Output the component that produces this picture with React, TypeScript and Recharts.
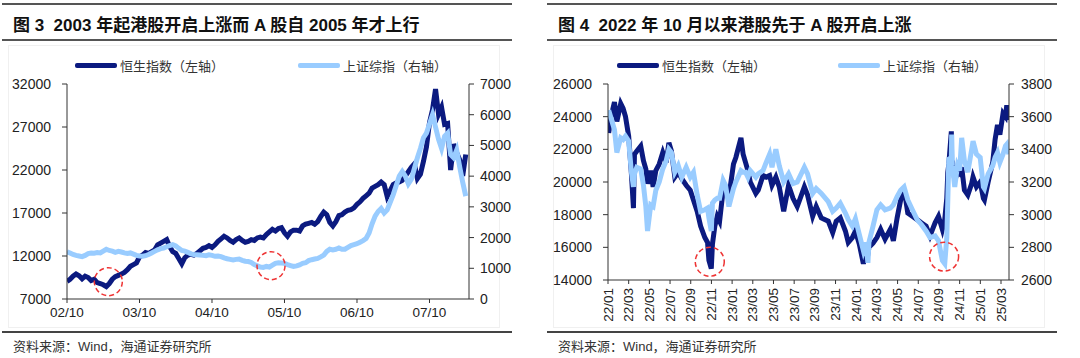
import { LineChart, Line, XAxis, YAxis, ReferenceDot } from "recharts";

const DARK = "#0b1a80";
const LIGHT = "#99ccff";
const RED = "#ee3333";

// ---- 图3：2002/10 - 2008/04，每半月一个点 ----
const leftStart = 2002.75;
const leftHsi = [
  9050, 9300, 9650, 9900, 9700, 9350,
  9650, 9500, 9150, 9300, 8900, 8800, 8650, 8450, 8800, 9300, 9600, 9750,
  9900, 10100, 10400, 10800, 11000, 11200, 11900, 12100, 12400, 12300, 12500, 12700,
  13300, 13500, 13700, 13900, 13100, 12500, 12300, 11700, 11100, 11800, 12100, 12200,
  12100, 12300, 12600, 12900, 13000, 13200, 13000, 13300, 13700, 14000, 14300, 14100,
  13800, 13600, 13900, 14100, 13800, 13600, 13700, 13900, 13800, 14100, 14200, 14100,
  14500, 14800, 15100, 14900, 15200, 15300, 14700, 14300, 14800, 15000, 15000, 14900,
  15500, 15700, 15800, 15900, 15700, 16000, 16600, 17100, 16800, 15900, 15500, 16000,
  16700, 16800, 17100, 17300, 17400, 17600, 18000, 18300, 18700, 19000, 19300, 19900,
  20100, 20300, 20600, 20300, 18900, 19600, 20300, 20500, 20600, 20800, 21300, 21800,
  22300, 22700, 21000, 21500, 23000, 24700, 27500, 29000, 31400, 28500, 29300, 27300,
  27400, 22000, 25000, 24000, 23200, 21300, 23800,
];
const leftSse = [
  1540, 1500, 1450, 1420, 1400, 1380,
  1420, 1480, 1500, 1490, 1510, 1500, 1560, 1620, 1580, 1560, 1520, 1550,
  1530, 1500, 1480, 1500, 1460, 1420, 1400, 1390, 1410, 1450, 1500, 1550,
  1600, 1640, 1660, 1700, 1740, 1770, 1730, 1650, 1580, 1560, 1520, 1470,
  1450, 1440, 1430, 1420, 1410, 1440, 1420, 1390, 1400, 1380, 1340, 1310,
  1290, 1270, 1290, 1300, 1260, 1230, 1220, 1190, 1120, 1080, 1040, 1030,
  1060, 1040, 1100, 1160, 1180, 1170, 1160, 1120, 1090, 1060, 1080, 1110,
  1160, 1180, 1250, 1280, 1300, 1320, 1370, 1430, 1550, 1620, 1600, 1620,
  1660, 1620, 1620, 1680, 1740, 1770, 1800, 1850, 1900, 1970, 2150, 2450,
  2700, 2850, 2950, 2800, 2900, 3150, 3400, 3700, 4000, 4150, 4000, 3750,
  3900, 4250, 4600, 4900, 5250, 5400, 5700, 6000, 5600, 5200, 4900, 5300,
  5400, 4700, 4600, 4850, 4300, 3800, 3350,
];
const leftXTicks = [2002.75, 2003.75, 2004.75, 2005.75, 2006.75, 2007.75];
const leftHsiTicks = [7000, 12000, 17000, 22000, 27000, 32000];
const leftSseTicks = [0, 1000, 2000, 3000, 4000, 5000, 6000, 7000];

// ---- 图4：2022/01 - 2025/03 ----
const rightDates = [
  "2022-01-03", "2022-01-10", "2022-01-20", "2022-01-27", "2022-02-08", "2022-02-15", "2022-02-22",
  "2022-03-01", "2022-03-09", "2022-03-15", "2022-03-18", "2022-03-25", "2022-04-06", "2022-04-14",
  "2022-04-21", "2022-04-26", "2022-05-05", "2022-05-12", "2022-05-20", "2022-05-30", "2022-06-10",
  "2022-06-20", "2022-06-28", "2022-07-05", "2022-07-15", "2022-07-25", "2022-08-05", "2022-08-18",
  "2022-08-30", "2022-09-09", "2022-09-20", "2022-09-30", "2022-10-12", "2022-10-20", "2022-10-24",
  "2022-10-31", "2022-11-04", "2022-11-11", "2022-11-18", "2022-11-25", "2022-12-05", "2022-12-12",
  "2022-12-22", "2023-01-05", "2023-01-12", "2023-01-27", "2023-02-03", "2023-02-10", "2023-02-17",
  "2023-02-24", "2023-03-10", "2023-03-17", "2023-03-31", "2023-04-10", "2023-04-20", "2023-04-27",
  "2023-05-08", "2023-05-18", "2023-05-31", "2023-06-15", "2023-06-28", "2023-07-10", "2023-07-31",
  "2023-08-10", "2023-08-25", "2023-09-05", "2023-09-20", "2023-10-10", "2023-10-23", "2023-11-03",
  "2023-11-15", "2023-11-30", "2023-12-08", "2023-12-20", "2023-12-29", "2024-01-10", "2024-01-22",
  "2024-01-29", "2024-02-05", "2024-02-08", "2024-02-20", "2024-03-01", "2024-03-12", "2024-03-25",
  "2024-04-10", "2024-04-19", "2024-04-30", "2024-05-10", "2024-05-20", "2024-05-31", "2024-06-14",
  "2024-06-28", "2024-07-10", "2024-07-24", "2024-08-05", "2024-08-20", "2024-08-30", "2024-09-11",
  "2024-09-18", "2024-09-24", "2024-09-27", "2024-09-30", "2024-10-07", "2024-10-08", "2024-10-10",
  "2024-10-17", "2024-10-25", "2024-11-01", "2024-11-07", "2024-11-15", "2024-11-25", "2024-12-06",
  "2024-12-10", "2024-12-20", "2024-12-31", "2025-01-10", "2025-01-13", "2025-01-24", "2025-02-07",
  "2025-02-14", "2025-02-21", "2025-02-28", "2025-03-07", "2025-03-14", "2025-03-18", "2025-03-24",
];
const rightHsi = [
  23000, 24000, 24900, 23700, 24800, 24500, 24000,
  22800, 20500, 18400, 21700, 21900, 22200, 21300,
  20800, 19900, 20700, 19700, 20700, 21100, 21800,
  21200, 22400, 21900, 20300, 20600, 20200, 19800,
  19500, 18900, 18200, 17300, 16600, 16300, 15200,
  14700, 16200, 17300, 17900, 17600, 19500, 19400,
  19100, 21100, 21500, 22700, 21700, 21200, 20700,
  20000, 19300, 19500, 20400, 20300, 20400, 19800,
  20300, 19700, 18200, 19800, 19000, 18500, 19700,
  19200, 17900, 18500, 17800, 17600, 16900, 17600,
  17800, 17000, 16300, 16600, 17000, 16200, 15000,
  15700, 15600, 16000, 16250, 16600, 17100, 16500,
  17100, 16400, 17800, 18900, 19600, 18100, 17900,
  17700, 17500, 17300, 16700, 17500, 17900, 17100,
  17700, 19000, 20600, 21100, 23100, 20900, 21300,
  20100, 20600, 20500, 20900, 19500, 19200, 19900,
  20300, 19700, 20000, 19000, 18900, 20000, 21200,
  22600, 23500, 22900, 24200, 24000, 24700, 23800,
];
const rightSse = [
  3640, 3590, 3520, 3380, 3470, 3460, 3480,
  3450, 3260, 3170, 3250, 3290, 3280, 3180,
  3050, 2900, 3060, 3050, 3150, 3200, 3280,
  3330, 3400, 3380, 3260, 3300, 3230, 3290,
  3230, 3260, 3120, 3020, 3030, 3040, 2980,
  2900, 3070, 3090, 3100, 3100, 3210, 3180,
  3050, 3160, 3200, 3270, 3260, 3260, 3230,
  3270, 3230, 3250, 3270, 3320, 3370, 3290,
  3400, 3300, 3200, 3250, 3190, 3200, 3290,
  3250, 3130, 3160, 3130, 3080, 3020, 3040,
  3070, 3010, 2970, 2930, 2975, 2880, 2780,
  2830, 2705, 2830, 2930, 3030, 3060, 3030,
  3040, 3060, 3110, 3150, 3170, 3090, 3030,
  2970, 2940, 2900, 2860, 2870, 2840, 2720,
  2700, 2860, 3090, 3340, 3350, 3490, 3300,
  3170, 3300, 3270, 3470, 3330, 3260, 3400,
  3450, 3370, 3350, 3170, 3160, 3250, 3300,
  3350, 3380, 3320, 3370, 3420, 3430, 3370,
];
const rightXTicks = [
  2022, 2022 + 2 / 12, 2022 + 4 / 12, 2022 + 6 / 12, 2022 + 8 / 12, 2022 + 10 / 12,
  2023, 2023 + 2 / 12, 2023 + 4 / 12, 2023 + 6 / 12, 2023 + 8 / 12, 2023 + 10 / 12,
  2024, 2024 + 2 / 12, 2024 + 4 / 12, 2024 + 6 / 12, 2024 + 8 / 12, 2024 + 10 / 12,
  2025, 2025 + 2 / 12,
];
const rightHsiTicks = [14000, 16000, 18000, 20000, 22000, 24000, 26000];
const rightSseTicks = [2600, 2800, 3000, 3200, 3400, 3600, 3800];

const toYear = (s: string) => {
  const [y, m, d] = s.split("-").map(Number);
  return y + (m - 1) / 12 + (d - 1) / 30.4 / 12;
};

const leftData = leftHsi.map((v, i) => ({ t: leftStart + i / 24, hsi: v, sse: leftSse[i] }));
const rightData = rightDates.map((d, i) => ({ t: toYear(d), hsi: rightHsi[i], sse: rightSse[i] }));

const fmtYm = (t: number) => {
  const y = Math.floor(t + 1e-6);
  const m = Math.round((t - y) * 12) + 1;
  return `${String(y % 100).padStart(2, "0")}/${String(m).padStart(2, "0")}`;
};

const tickFont = { fontSize: 14, fill: "#222", fontFamily: '"Liberation Sans", Arial, sans-serif' };
const axisLine = { stroke: "#333" };

const RotTick = (props: any) => {
  const { x, y, payload } = props;
  return (
    <text
      x={x}
      y={y}
      transform={`rotate(-90, ${x}, ${y})`}
      textAnchor="end"
      dominantBaseline="central"
      fontSize={13.5}
      fill="#222"
      fontFamily='"Liberation Sans", Arial, sans-serif'
    >
      {fmtYm(payload.value)}
    </text>
  );
};

const cjk = '"Liberation Sans", "Noto Sans CJK SC", sans-serif';

const LegendItem = ({ x, color, label }: { x: number; color: string; label: string }) => (
  <div style={{ position: "absolute", left: x, top: 56, height: 18, display: "flex", alignItems: "center" }}>
    <div style={{ width: 42, height: 5, background: color, borderRadius: 2 }} />
    <span style={{ marginLeft: 3, fontSize: 13, color: "#333", fontFamily: cjk }}>{label}</span>
  </div>
);

const Panel = ({ left, title }: { left: number; title: string }) => (
  <>
    <div style={{ position: "absolute", left, top: 3, width: 510, borderTop: "2px solid #555" }} />
    <div
      style={{
        position: "absolute",
        left: left + 11,
        top: 11,
        fontSize: 17,
        fontWeight: "bold",
        color: "#111",
        fontFamily: cjk,
        whiteSpace: "pre",
      }}
    >
      {title}
    </div>
    <div style={{ position: "absolute", left, top: 39, width: 510, borderTop: "2px solid #555" }} />
    <div
      style={{ position: "absolute", left: left + 6, top: 45, width: 490, height: 281, border: "1px solid #f0f0f0" }}
    />
    <div style={{ position: "absolute", left, top: 331, width: 510, borderTop: "2px solid #444" }} />
    <div style={{ position: "absolute", left: left + 11, top: 336, fontSize: 13, color: "#333", fontFamily: cjk }}>
      资料来源：Wind，海通证券研究所
    </div>
  </>
);

export default function App() {
  return (
    <div style={{ position: "absolute", left: 0, top: 0, width: 1080, height: 358, background: "#fff", overflow: "hidden" }}>
      <Panel left={2} title={"图 3  2003 年起港股开启上涨而 A 股自 2005 年才上行"} />
      <Panel left={547} title={"图 4  2022 年 10 月以来港股先于 A 股开启上涨"} />

      <div style={{ position: "absolute", left: 0, top: 0 }}>
        <LineChart width={540} height={330} data={leftData} margin={{ top: 84, right: 11, bottom: 5, left: 7 }}>
          <XAxis
            type="number"
            dataKey="t"
            domain={[2002.75, 2008.295]}
            ticks={leftXTicks}
            tickFormatter={fmtYm}
            interval={0}
            allowDataOverflow
            height={26}
            tickSize={4}
            tickMargin={4}
            axisLine={axisLine}
            tickLine={axisLine}
            tick={{ ...tickFont, fontSize: 13.5 }}
          />
          <YAxis
            yAxisId="left"
            domain={[7000, 32000]}
            ticks={leftHsiTicks}
            interval={0}
            width={60}
            tickSize={5}
            tickMargin={11}
            axisLine={axisLine}
            tickLine={axisLine}
            tick={tickFont}
          />
          <YAxis
            yAxisId="right"
            orientation="right"
            domain={[0, 7000]}
            ticks={leftSseTicks}
            interval={0}
            width={60}
            tickSize={5}
            tickMargin={6}
            axisLine={axisLine}
            tickLine={axisLine}
            tick={tickFont}
          />
          <Line yAxisId="left" dataKey="hsi" stroke={DARK} strokeWidth={5} dot={false} isAnimationActive={false} />
          <Line yAxisId="right" dataKey="sse" stroke={LIGHT} strokeWidth={5} dot={false} isAnimationActive={false} />
          <ReferenceDot yAxisId="left" x={2003.32} y={9010} r={14} fill="none" stroke={RED} strokeWidth={1.5} strokeDasharray="5 3" />
          <ReferenceDot yAxisId="left" x={2005.564} y={10870} r={14} fill="none" stroke={RED} strokeWidth={1.5} strokeDasharray="5 3" />
        </LineChart>
      </div>
      <LegendItem x={75} color={DARK} label="恒生指数（左轴）" />
      <LegendItem x={298} color={LIGHT} label="上证综指（右轴）" />

      <div style={{ position: "absolute", left: 540, top: 0 }}>
        <LineChart width={540} height={330} data={rightData} margin={{ top: 84, right: 11, bottom: 5, left: 8 }}>
          <XAxis
            type="number"
            dataKey="t"
            domain={[2022, 2025.231]}
            ticks={rightXTicks}
            interval={0}
            allowDataOverflow
            height={45}
            tickSize={4}
            tickMargin={4}
            axisLine={axisLine}
            tickLine={axisLine}
            tick={<RotTick />}
          />
          <YAxis
            yAxisId="left"
            domain={[14000, 26000]}
            ticks={rightHsiTicks}
            interval={0}
            width={60}
            tickSize={5}
            tickMargin={11}
            axisLine={axisLine}
            tickLine={axisLine}
            tick={tickFont}
          />
          <YAxis
            yAxisId="right"
            orientation="right"
            domain={[2600, 3800]}
            ticks={rightSseTicks}
            interval={0}
            width={60}
            tickSize={5}
            tickMargin={7}
            axisLine={axisLine}
            tickLine={axisLine}
            tick={tickFont}
          />
          <Line yAxisId="left" dataKey="hsi" stroke={DARK} strokeWidth={5} dot={false} isAnimationActive={false} />
          <Line yAxisId="right" dataKey="sse" stroke={LIGHT} strokeWidth={5} dot={false} isAnimationActive={false} />
          <ReferenceDot yAxisId="left" x={2022.82} y={15120} r={14.5} fill="none" stroke={RED} strokeWidth={1.5} strokeDasharray="5 3" />
          <ReferenceDot yAxisId="left" x={2024.708} y={15430} r={14.5} fill="none" stroke={RED} strokeWidth={1.5} strokeDasharray="5 3" />
        </LineChart>
      </div>
      <LegendItem x={617} color={DARK} label="恒生指数（左轴）" />
      <LegendItem x={838} color={LIGHT} label="上证综指（右轴）" />
    </div>
  );
}
